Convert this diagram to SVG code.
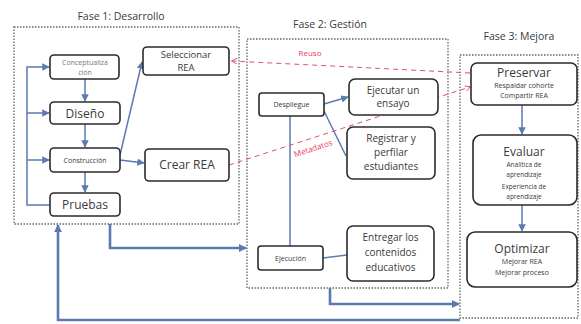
<svg xmlns="http://www.w3.org/2000/svg" width="581" height="324" viewBox="0 0 581 324">
<defs>
<style>
text{font-family:"Open Sans","Liberation Sans",sans-serif;fill:#3a3a3a;text-anchor:middle}
.frame{fill:none;stroke:#666;stroke-width:1.3;stroke-dasharray:1.5 1.5}
.box{fill:#fff;stroke:#2b2b2b;stroke-width:1.6}
.c{fill:none;stroke:#5b7bb0;stroke-width:1.5}
.ct{fill:none;stroke:#5b7bb0;stroke-width:2.6}
.r{fill:none;stroke:#e0506a;stroke-width:1;stroke-dasharray:5 4}
.t{font-size:10.5px}
.lg{font-size:12px}
.md{font-size:10px}
.sm{font-size:7px}
.xs{font-size:6.5px}
.red{fill:#e83c5c;font-size:8px}
</style>
<marker id="a" viewBox="0 0 10 10" refX="9" refY="5" markerWidth="5" markerHeight="5" orient="auto"><path d="M0,0L10,5L0,10z" fill="#5b7bb0"/></marker>
<marker id="at" viewBox="0 0 10 10" refX="9" refY="5" markerUnits="userSpaceOnUse" markerWidth="8" markerHeight="8" orient="auto"><path d="M0,0L10,5L0,10z" fill="#5b7bb0"/></marker>
<marker id="ar" viewBox="0 0 10 10" refX="9" refY="5" markerWidth="6" markerHeight="6" orient="auto"><path d="M0,0L10,5L0,10" fill="none" stroke="#e0506a" stroke-width="1.5"/></marker>
</defs>
<rect width="581" height="324" fill="#fff"/>

<g id="fase1">
<rect class="frame" x="14" y="27" width="225" height="197"/>
<text class="t" x="121" y="20">Fase 1: Desarrollo</text>
</g>
<g id="fase2">
<rect class="frame" x="247" y="39" width="201" height="249"/>
<text class="t" x="330" y="28">Fase 2: Gestión</text>
</g>
<g id="fase3">
<rect class="frame" x="460" y="55" width="118" height="263"/>
<text class="t" x="519" y="40">Fase 3: Mejora</text>
</g>

<g id="connectors">
<path class="c" d="M50,205H27V67H49" marker-end="url(#a)"/>
<path class="c" d="M27,113H49" marker-end="url(#a)"/>
<path class="c" d="M27,160H49" marker-end="url(#a)"/>
<path class="c" d="M85,79V101" marker-end="url(#a)"/>
<path class="c" d="M85,124V147" marker-end="url(#a)"/>
<path class="c" d="M85,172V192" marker-end="url(#a)"/>
<path class="c" d="M120,155L142,62" marker-end="url(#a)"/>
<path class="c" d="M120,160L144,163" marker-end="url(#a)"/>
<path class="c" d="M324,104L348,97" marker-end="url(#a)"/>
<path class="c" d="M324,111L346,156"/>
<path class="c" d="M290,116V246"/>
<path class="c" d="M323,258L347,255"/>
<path class="c" d="M522,105V134" marker-end="url(#a)"/>
<path class="c" d="M522,205V231" marker-end="url(#a)"/>
<path class="ct" d="M110,224V248H246" marker-end="url(#at)"/>
<path class="ct" d="M330,288V304H459" marker-end="url(#at)"/>
<path class="ct" d="M460,320H58V225" marker-end="url(#at)"/>
<path class="r" d="M470,73L232,61" marker-end="url(#ar)"/>
<path class="r" d="M229,165L470,87" marker-end="url(#ar)"/>
<text class="red" x="310" y="56">Reuso</text>
<text class="red" x="314" y="151" transform="rotate(-18 314 151)">Metadatos</text>
</g>

<g id="conceptualizacion">
<rect class="box" x="50" y="55" width="69" height="24" rx="4"/>
<text class="sm" x="85" y="65" style="fill:#777">Conceptualiza</text>
<text class="sm" x="85" y="75" style="fill:#777">ción</text>
</g>
<g id="diseno">
<rect class="box" x="50" y="102" width="70" height="22" rx="4"/>
<text class="lg" x="85" y="117.5">Diseño</text>
</g>
<g id="construccion">
<rect class="box" x="50" y="148" width="70" height="24" rx="4"/>
<text class="sm" x="85" y="162.5">Construcción</text>
</g>
<g id="pruebas">
<rect class="box" x="50" y="193" width="70" height="23" rx="4"/>
<text class="lg" x="85" y="209">Pruebas</text>
</g>
<g id="seleccionar">
<rect class="box" x="143" y="47" width="86" height="28" rx="4"/>
<text class="md" x="186" y="58" style="font-size:9.5px">Seleccionar</text>
<text class="md" x="186" y="71" style="font-size:9.5px">REA</text>
</g>
<g id="crear">
<rect class="box" x="145" y="149" width="84" height="32" rx="4"/>
<text class="lg" x="187" y="169">Crear REA</text>
</g>
<g id="despliegue">
<rect class="box" x="259" y="93" width="65" height="23" rx="3"/>
<text class="sm" x="291.5" y="107">Despliegue</text>
</g>
<g id="ejecutar">
<rect class="box" x="349" y="79" width="89" height="36" rx="6"/>
<text class="md" x="393" y="94">Ejecutar un</text>
<text class="md" x="393" y="107">ensayo</text>
</g>
<g id="registrar">
<rect class="box" x="347" y="127" width="88" height="52" rx="6"/>
<text class="md" x="391" y="142">Registrar y</text>
<text class="md" x="391" y="156">perfilar</text>
<text class="md" x="391" y="170">estudiantes</text>
</g>
<g id="ejecucion">
<rect class="box" x="258" y="246" width="65" height="24" rx="3"/>
<text class="sm" x="290.5" y="260.5">Ejecución</text>
</g>
<g id="entregar">
<rect class="box" x="347" y="226" width="87" height="55" rx="6"/>
<text class="md" x="390.5" y="241">Entregar los</text>
<text class="md" x="390.5" y="256">contenidos</text>
<text class="md" x="390.5" y="271">educativos</text>
</g>
<g id="preservar">
<rect class="box" x="471" y="63" width="106" height="42" rx="6"/>
<text class="lg" x="524" y="77">Preservar</text>
<text class="sm" x="524" y="88">Respaldar cohorte</text>
<text class="sm" x="524" y="98">Compartir REA</text>
</g>
<g id="evaluar">
<rect class="box" x="473" y="135" width="104" height="70" rx="8"/>
<text class="lg" x="524" y="156">Evaluar</text>
<text class="xs" x="524" y="167">Analítica de</text>
<text class="xs" x="524" y="177">aprendizaje</text>
<text class="xs" x="524" y="189">Experiencia de</text>
<text class="xs" x="524" y="199">aprendizaje</text>
</g>
<g id="optimizar">
<rect class="box" x="467" y="232" width="110" height="55" rx="8"/>
<text class="lg" x="522" y="253">Optimizar</text>
<text class="sm" x="522" y="264">Mejorar REA</text>
<text class="sm" x="522" y="275">Mejorar proceso</text>
</g>
</svg>
